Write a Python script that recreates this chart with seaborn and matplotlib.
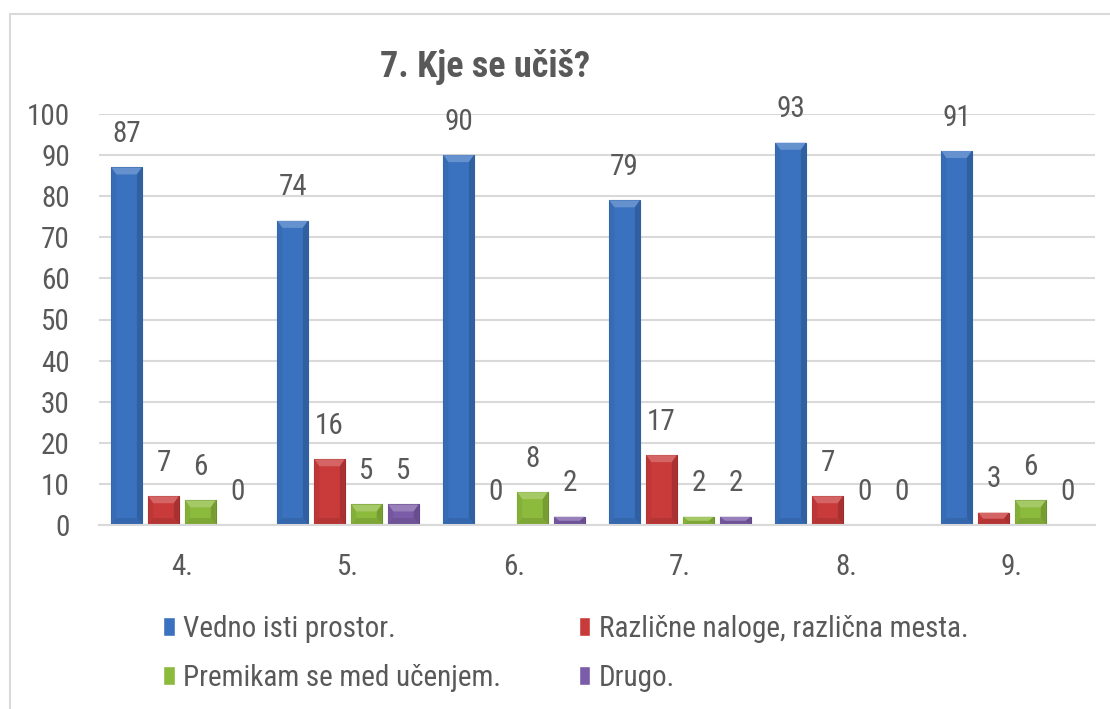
import matplotlib
matplotlib.use("Agg")
import matplotlib.pyplot as plt
from matplotlib.patches import Rectangle, Polygon
from matplotlib.colors import to_rgb
import numpy as np
import seaborn as sns
import pandas as pd

# ---- data ----
razredi = ["4.", "5.", "6.", "7.", "8.", "9."]
odgovori = ["Vedno isti prostor.", "Različne naloge, različna mesta.",
            "Premikam se med učenjem.", "Drugo."]
vedno_isti = [87, 74, 90, 79, 93, 91]
razlicne = [7, 16, 0, 17, 7, 3]
premikam = [6, 5, 8, 2, 0, 6]
drugo = [0, 5, 2, 2, 0, 0]
y_ticks = [0, 10, 20, 30, 40, 50, 60, 70, 80, 90, 100]
naslov = "7. Kje se učiš?"

barve = ["#3a72c0", "#c93a3a", "#8cba3c", "#7b5ca8"]
robovi = ["#2f5f9e", "#9a2c2c", "#6a8f2c", "#5f4787"]
TXT = "#595959"

df = pd.DataFrame({
    "razred": razredi * 4,
    "odgovor": sum([[o] * len(razredi) for o in odgovori], []),
    "vrednost": vedno_isti + razlicne + premikam + drugo,
})


def mix(c, other, t):
    a = np.array(to_rgb(c))
    b = np.array(to_rgb(other))
    return tuple(a * (1 - t) + b * t)


sns.set_theme(style="white")
plt.rcParams["font.family"] = ["Roboto Condensed", "Liberation Sans", "DejaVu Sans"]

fig = plt.figure(figsize=(11.1, 7.09), dpi=100)
ax = fig.add_axes([99 / 1110, 1 - 525 / 709, 996 / 1110, 411 / 709])

sns.barplot(data=df, x="razred", y="vrednost", hue="odgovor", order=razredi,
            hue_order=odgovori, palette=barve, width=0.89, gap=0.17,
            saturation=1, ax=ax, legend=True)

ax.set_xlim(-0.5, 5.5)
ax.set_ylim(0, 100)

# subtle bevel shading derived from each bar's geometry
bx_px, by_px = 5.0, 7.0
px_x = 6.0 / 996
px_y = 100.0 / 411
for cont, ec, fc in zip(ax.containers, robovi, barve):
    for p in cont:
        p.set_edgecolor(ec)
        p.set_linewidth(0.8)
        x0, w, h = p.get_x(), p.get_width(), p.get_height()
        if h <= 0:
            continue
        bx = bx_px * px_x
        by = min(by_px * px_y, h / 2)
        faces = [
            ([(x0, h), (x0 + w, h), (x0 + w - bx, h - by), (x0 + bx, h - by)], mix(fc, "white", 0.22)),
            ([(x0, 0), (x0, h), (x0 + bx, h - by), (x0 + bx, by)], mix(fc, "black", 0.06)),
            ([(x0 + w, 0), (x0 + w, h), (x0 + w - bx, h - by), (x0 + w - bx, by)], mix(fc, "black", 0.16)),
            ([(x0, 0), (x0 + w, 0), (x0 + w - bx, by), (x0 + bx, by)], mix(fc, "black", 0.1)),
        ]
        for pts, col in faces:
            ax.add_patch(Polygon(pts, closed=True, fc=col, ec="none", zorder=p.get_zorder() + 0.1))

for cont in ax.containers:
    ax.bar_label(cont, fmt="%d", padding=14, fontsize=21, color=TXT)

ax.set_yticks(y_ticks)
ax.set_xlabel("")
ax.set_ylabel("")
ax.grid(axis="y", color="#d9d9d9", lw=1.5)
ax.set_axisbelow(True)
for s in ["left", "right", "top"]:
    ax.spines[s].set_visible(False)
ax.spines["bottom"].set_color("#d9d9d9")
ax.spines["bottom"].set_linewidth(1.5)
ax.tick_params(axis="y", labelsize=21, labelcolor=TXT, length=0, pad=21)
ax.tick_params(axis="x", labelsize=21, labelcolor=TXT, length=0, pad=20)

handles, labels = ax.get_legend_handles_labels()
ax.get_legend().remove()
order = [0, 2, 1, 3]
leg = fig.legend([handles[i] for i in order], [labels[i] for i in order], ncol=2,
                 loc="upper left",
                 bbox_to_anchor=(163 / 1110, 1 - 615 / 709), frameon=False,
                 fontsize=21, handlelength=0.4, handleheight=0.6,
                 handletextpad=0.3, columnspacing=2.65, labelspacing=0.72,
                 borderpad=0, borderaxespad=0)
for t in leg.get_texts():
    t.set_color(TXT)

fig.text(485 / 1110, 1 - 67 / 709, naslov, ha="center", va="center",
         fontsize=26, fontweight="bold", color=TXT)

fig.patches.append(Rectangle((9.5 / 1110, -0.1), 1.2, (709 - 14) / 709 + 0.1,
                             transform=fig.transFigure, fill=False,
                             ec="#d9d9d9", lw=1.5))

fig.savefig("out.png", dpi=100)
